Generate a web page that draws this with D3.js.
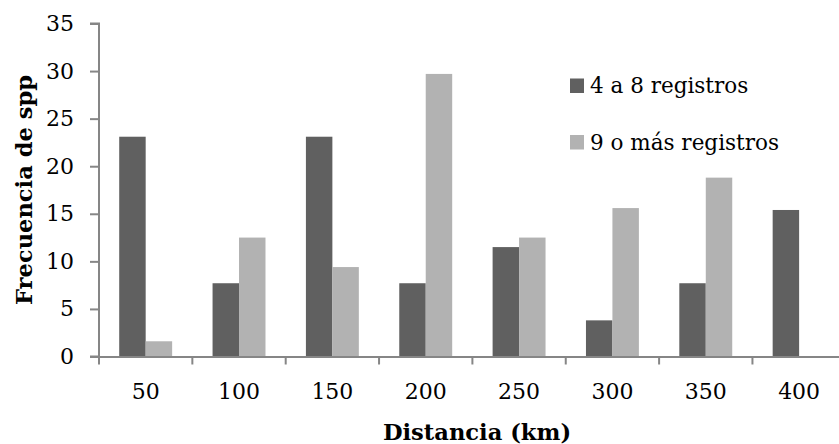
<!DOCTYPE html>
<html><head><meta charset="utf-8">
<script src="https://cdn.jsdelivr.net/npm/d3@7"></script>
<style>body{margin:0;background:#fff}svg{display:block}</style>
</head><body>
<svg id="c" width="839" height="444"></svg>
<script>
const categories = ["50","100","150","200","250","300","350","400"];
const seriesNames = ["4 a 8 registros","9 o más registros"];
const values4a8 = [23.1, 7.7, 23.1, 7.7, 11.5, 3.8, 7.7, 15.4];
const values9mas = [1.6, 12.5, 9.4, 29.7, 12.5, 15.6, 18.8, 0];
const yTicks = [0,5,10,15,20,25,30,35];
const colors = ["#606060","#b2b2b2"];
const axisColor = "#868686";
const font = "'DejaVu Serif', serif";

(function(){
const svg = d3.select("#c");
const mLeft = 99, mRight = 845.8, mTop = 23.5, mBottom = 356.5;
const x = d3.scaleBand().domain(categories).range([mLeft, mRight]).padding(0);
const bw = x.bandwidth();
const xs = d3.scaleBand().domain([0,1]).range([bw*0.2165, bw*(1-0.2165)]).padding(0);
const y = d3.scaleLinear().domain([0,35]).range([mBottom, mTop]);

const rows = categories.map((c,i)=>({c, v:[values4a8[i], values9mas[i]]}));
const g = svg.append("g");
rows.forEach(r=>{
  r.v.forEach((v,s)=>{
    if (v<=0) return;
    g.append("rect").attr("x", x(r.c)+xs(s)).attr("width", xs.bandwidth())
      .attr("y", y(v)).attr("height", y(0)-y(v)).attr("fill", colors[s]);
  });
});

// y axis
const ya = svg.append("g").attr("transform",`translate(${mLeft},0)`)
  .call(d3.axisLeft(y).tickValues(yTicks).tickSize(9).tickPadding(16));
ya.select(".domain").attr("stroke", axisColor).attr("stroke-width",2).attr("d",`M-9,${mTop}H0V${mBottom}H-9`);
ya.selectAll(".tick line").attr("stroke", axisColor).attr("stroke-width",2);
ya.selectAll(".tick text").attr("font-family", font).attr("font-size", 22).attr("fill","#000");

// x axis
const xa = svg.append("g").attr("transform",`translate(0,${mBottom})`)
  .call(d3.axisBottom(x).tickSize(0).tickPadding(27));
xa.select(".domain").attr("stroke", axisColor).attr("stroke-width",2);
xa.selectAll(".tick text").attr("font-family", font).attr("font-size", 22).attr("fill","#000");
const bounds = categories.map(c=>x(c)).concat([mRight]);
svg.append("g").selectAll("line").data(bounds).join("line")
  .attr("x1",d=>d).attr("x2",d=>d).attr("y1",mBottom).attr("y2",mBottom+8)
  .attr("stroke",axisColor).attr("stroke-width",2);

// titles
svg.append("text").attr("x", 477).attr("y", 440).attr("text-anchor","middle")
  .attr("font-family", font).attr("font-weight","bold").attr("font-size",22.6)
  .text("Distancia (km)");
svg.append("text").attr("transform",`translate(32,${(mTop+mBottom)/2}) rotate(-90)`)
  .attr("text-anchor","middle").attr("font-family", font).attr("font-weight","bold").attr("font-size",22.6)
  .text("Frecuencia de spp");

// legend
const leg = svg.append("g");
const legY = [93, 149.5];
seriesNames.forEach((n,i)=>{
  leg.append("rect").attr("x",570).attr("y",legY[i]-14.5).attr("width",14).attr("height",14.5).attr("fill",colors[i]);
  leg.append("text").attr("x",590).attr("y",legY[i]).attr("font-family",font).attr("font-size",21.5).attr("fill","#000").text(n);
});
})();
</script>
</body></html>
